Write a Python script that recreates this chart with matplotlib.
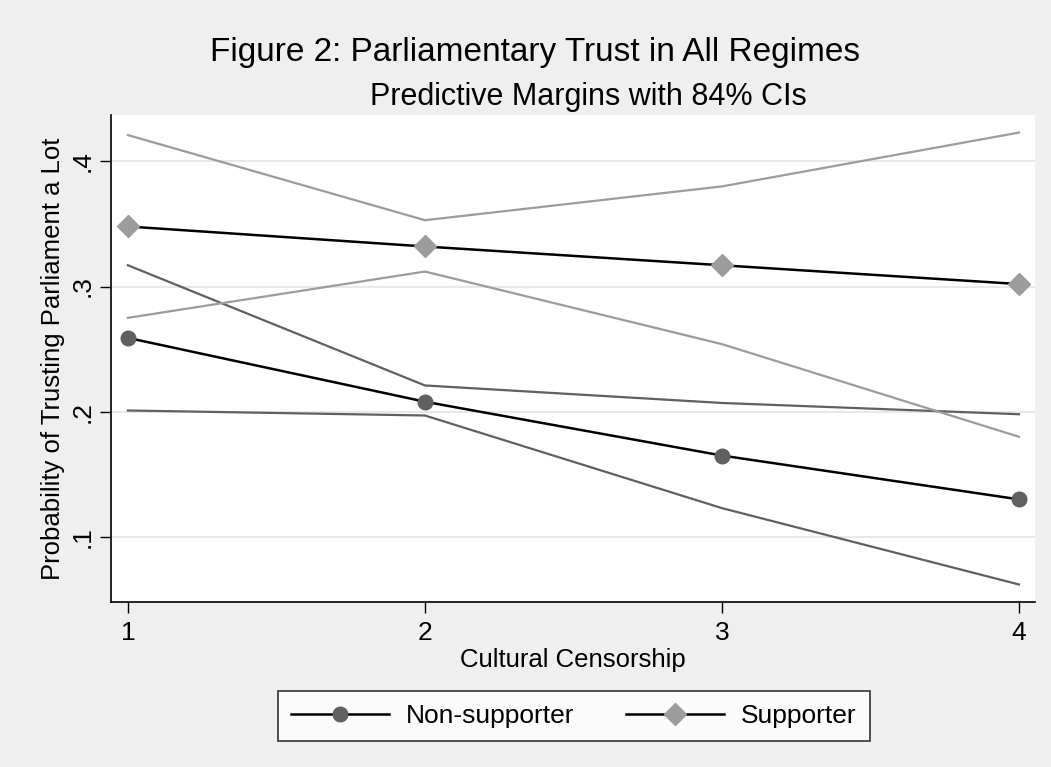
import matplotlib
matplotlib.use("Agg")
import matplotlib.pyplot as plt
from matplotlib.lines import Line2D

BG = "#efefef"
NON, SUP = "#606060", "#9c9c9c"

censorship = [1, 2, 3, 4]

# predictive margins and 84% CI bounds
non_mean = [0.259, 0.208, 0.165, 0.130]
non_hi = [0.317, 0.221, 0.207, 0.198]
non_lo = [0.201, 0.197, 0.123, 0.062]

sup_mean = [0.348, 0.332, 0.317, 0.302]
sup_hi = [0.421, 0.353, 0.380, 0.423]
sup_lo = [0.275, 0.312, 0.254, 0.180]

yticks = [0.1, 0.2, 0.3, 0.4]
ytick_labels = [".1", ".2", ".3", ".4"]

plt.rcParams.update({
    "font.family": ["Liberation Sans", "DejaVu Sans"],
    "font.size": 19,
})

fig = plt.figure(figsize=(10.51, 7.67), dpi=100, facecolor=BG)
ax = fig.add_axes([0.1056, 0.2151, 0.8792, 0.6349])
ax.set_facecolor("white")

for y in yticks:
    ax.axhline(y, color="#e8e8e8", lw=1.5, zorder=0)

# confidence bounds
ax.plot(censorship, non_hi, color=NON, lw=1.6, zorder=2)
ax.plot(censorship, non_lo, color=NON, lw=1.6, zorder=2)
ax.plot(censorship, sup_hi, color=SUP, lw=1.6, zorder=2)
ax.plot(censorship, sup_lo, color=SUP, lw=1.6, zorder=2)

# margins
ax.plot(censorship, non_mean, color="black", lw=1.8, marker="o", ms=10.5,
        mfc=NON, mec=NON, zorder=3)
ax.plot(censorship, sup_mean, color="black", lw=1.8, marker="D", ms=11,
        mfc=SUP, mec=SUP, zorder=3)

ax.set_xlim(0.943, 4.054)
ax.set_ylim(0.048, 0.437)
ax.set_xticks(censorship)
ax.set_yticks(yticks)
ax.set_yticklabels(ytick_labels, rotation=90, va="center")
ax.tick_params(axis="both", length=8, width=1, color="black", labelsize=19,
               pad=4)
ax.tick_params(axis="x", pad=6)
for side in ("top", "right"):
    ax.spines[side].set_visible(False)
for side in ("left", "bottom"):
    ax.spines[side].set_linewidth(1.2)

ax.set_xlabel("Cultural Censorship", fontsize=18.5, labelpad=2)
ax.set_ylabel("Probability of Trusting Parliament a Lot", fontsize=18.5,
              labelpad=4)

fig.text(0.509, 0.932, "Figure 2: Parliamentary Trust in All Regimes",
         ha="center", va="center", fontsize=24)
fig.text(0.56, 0.874, "Predictive Margins with 84% CIs",
         ha="center", va="center", fontsize=22)

handles = [
    Line2D([], [], color="black", lw=1.8, marker="o", ms=10.5, mfc=NON, mec=NON),
    Line2D([], [], color="black", lw=1.8, marker="D", ms=11, mfc=SUP, mec=SUP),
]
leg = fig.legend(handles, ["Non-supporter", "Supporter"], ncol=2,
                 loc="center", bbox_to_anchor=(0.546, 0.0665), fontsize=19,
                 frameon=True, fancybox=False, edgecolor="black",
                 handlelength=3.7, handletextpad=0.65, columnspacing=1.95,
                 borderpad=0.5)
leg.get_frame().set_linewidth(1.2)

fig.savefig("out.png", dpi=100, facecolor=BG)
